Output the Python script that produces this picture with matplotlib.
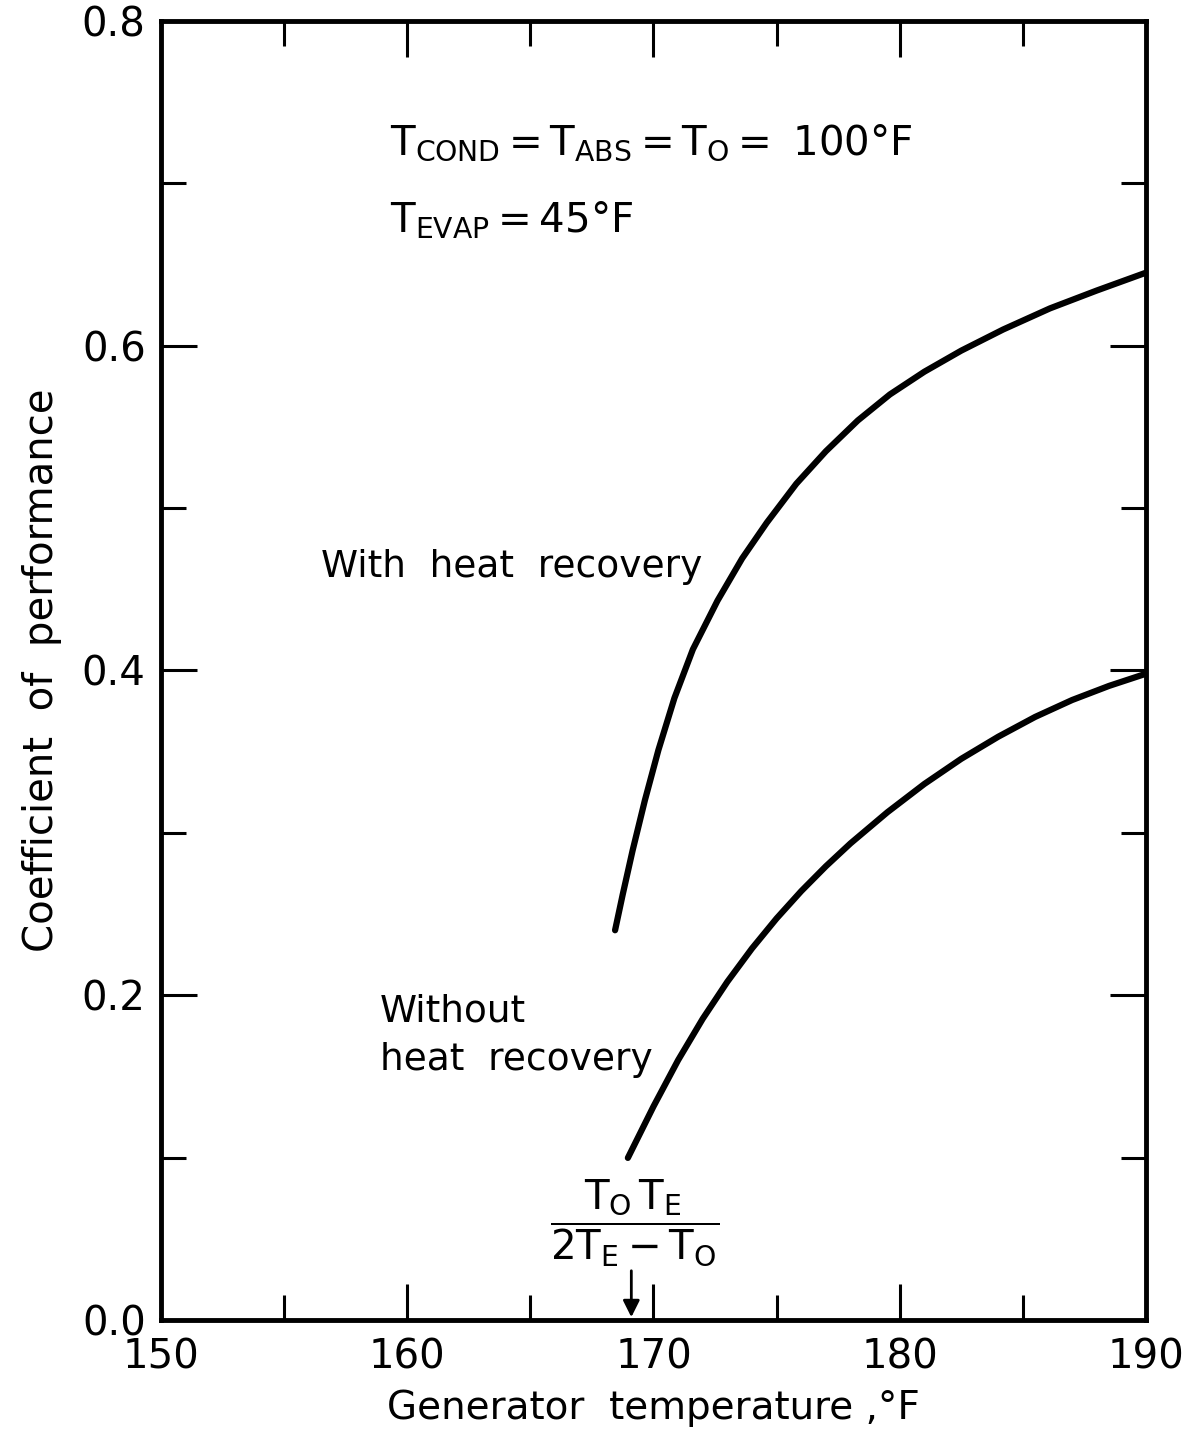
import matplotlib
matplotlib.use("Agg")
import matplotlib.pyplot as plt
from matplotlib.ticker import MultipleLocator

plt.rcParams['font.family'] = ['DejaVu Sans']
plt.rcParams['mathtext.fontset'] = 'dejavusans'

# generator temperature (F) and COP
t_with = [168.44, 168.75, 169.15, 169.65, 170.2, 170.85, 171.6, 172.6, 173.6,
          174.6, 175.8, 177.0, 178.3, 179.6, 181.0, 182.5, 184.2, 186.1, 188.0, 190.0]
cop_with = [0.240, 0.262, 0.289, 0.320, 0.351, 0.383, 0.413, 0.443, 0.469,
            0.491, 0.515, 0.535, 0.554, 0.570, 0.584, 0.597, 0.610, 0.623, 0.634, 0.645]

t_without = [168.96, 170.0, 171.0, 172.0, 173.0, 174.0, 175.0, 176.0, 177.0,
             178.0, 179.5, 181.0, 182.5, 184.0, 185.5, 187.0, 188.5, 190.0]
cop_without = [0.0998, 0.1315, 0.160, 0.1855, 0.2083, 0.2288, 0.2473, 0.2641, 0.2794,
               0.2935, 0.3127, 0.3301, 0.3456, 0.3592, 0.3714, 0.3818, 0.3905, 0.398]

t_limit = 169.1  # T0*TE/(2TE-T0)

fig = plt.figure(figsize=(11.95, 14.38), dpi=100)
ax = fig.add_axes([0.1347, 0.0821, 0.9590 - 0.1347, 0.9854 - 0.0821])

ax.plot(t_with, cop_with, color='black', lw=4.5, solid_capstyle='round', solid_joinstyle='round')
ax.plot(t_without, cop_without, color='black', lw=4.5, solid_capstyle='round', solid_joinstyle='round')

ax.set_xlim(150, 190)
ax.set_ylim(0, 0.8)
ax.xaxis.set_major_locator(MultipleLocator(10))
ax.xaxis.set_minor_locator(MultipleLocator(5))
ax.yaxis.set_major_locator(MultipleLocator(0.2))
ax.yaxis.set_minor_locator(MultipleLocator(0.1))
ax.yaxis.set_major_formatter(plt.FuncFormatter(lambda v, p: f"{v:.1f}"))

for s in ax.spines.values():
    s.set_linewidth(3.5)
ax.tick_params(which='both', direction='in', top=True, right=True, width=2.2)
ax.tick_params(which='major', length=26, labelsize=29)
ax.tick_params(which='minor', length=18)
ax.tick_params(axis='x', which='major', pad=13)
ax.tick_params(axis='y', which='major', pad=11)

ax.set_xlabel("Generator  temperature ,°F", fontsize=28, labelpad=8)
ax.set_ylabel("Coefficient  of  performance", fontsize=29, labelpad=14)

ax.text(159.3, 0.725, r"$\mathregular{T_{COND} = T_{ABS} = T_O = \ 100°F}$",
        fontsize=29, va='center')
ax.text(159.3, 0.677, r"$\mathregular{T_{EVAP} = 45°F}$", fontsize=29, va='center')

ax.text(156.5, 0.464, "With  heat  recovery", fontsize=27, va='center')
ax.text(158.9, 0.190, "Without", fontsize=27, va='center')
ax.text(158.9, 0.160, "heat  recovery", fontsize=27, va='center')

ax.text(169.25, 0.060, r"$\mathregular{\dfrac{T_O\,T_E}{2T_E - T_O}}$",
        fontsize=29, ha='center', va='center')
ax.annotate("", xy=(t_limit, 0.0), xytext=(t_limit, 0.032),
            arrowprops=dict(arrowstyle='-|>', color='black', lw=2, mutation_scale=25))

fig.savefig("out.png", dpi=100)
